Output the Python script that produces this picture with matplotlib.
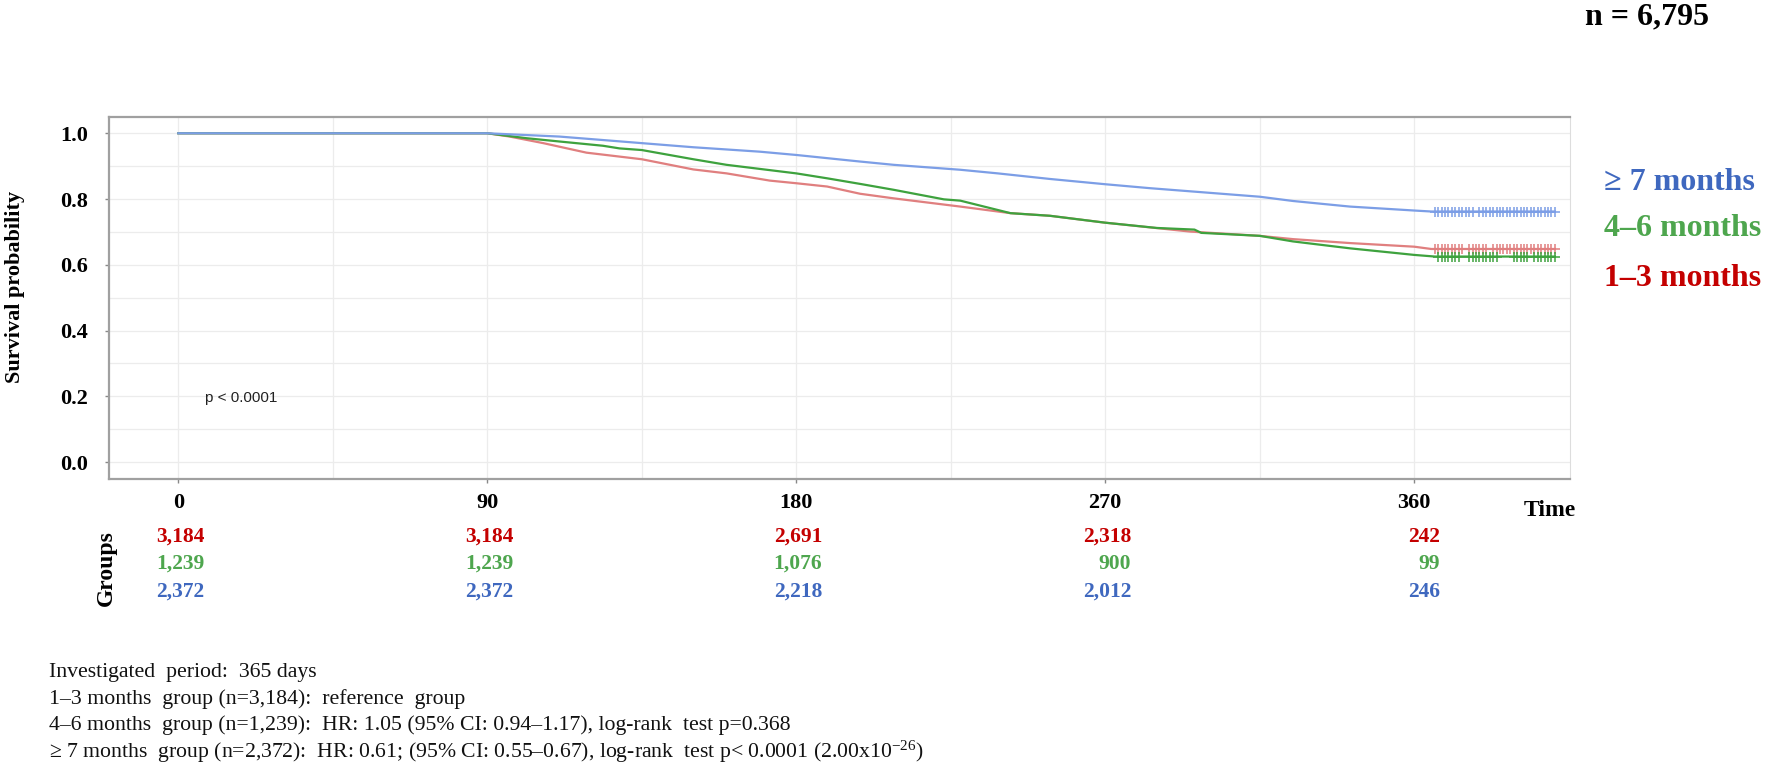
import matplotlib
matplotlib.use('Agg')
import matplotlib.pyplot as plt
import numpy as np
from matplotlib.transforms import blended_transform_factory

plt.rcParams['mathtext.fontset'] = 'custom'
plt.rcParams['mathtext.rm'] = 'Liberation Serif'
plt.rcParams['mathtext.it'] = 'Liberation Serif:italic'
plt.rcParams['mathtext.bf'] = 'Liberation Serif:bold'

SERIF = 'Liberation Serif'

# ---------------- data ----------------
groups = ['1\u20133 months', '4\u20136 months', '\u2265 7 months']

time_13 = [0, 90, 96.5, 106.3, 118.9, 135, 150, 159.7, 172.3, 180, 189, 198.6, 208.4,
           227.8, 242.4, 253.9, 270, 294.7, 315, 324.7, 341.3, 360, 365]
surv_13 = [1.0, 1.0, 0.990, 0.970, 0.941, 0.921, 0.890, 0.878, 0.856, 0.848, 0.838, 0.816,
           0.802, 0.777, 0.757, 0.749, 0.728, 0.701, 0.688, 0.678, 0.666, 0.655, 0.648]

time_46 = [0, 90, 101.4, 111, 123.7, 128.5, 135, 150, 159.7, 180, 189, 198.6, 208.4, 223,
           227.8, 242.4, 253.9, 270, 285, 296, 298, 315, 324.7, 341.3, 360, 366]
surv_46 = [1.0, 1.0, 0.985, 0.975, 0.962, 0.954, 0.949, 0.921, 0.904, 0.878, 0.863, 0.846,
           0.828, 0.799, 0.795, 0.757, 0.749, 0.728, 0.712, 0.707, 0.697, 0.688, 0.671,
           0.650, 0.630, 0.625]

time_7 = [0, 90, 111, 135, 150, 169.4, 180, 198.6, 208.4, 227.8, 238.7, 253.9, 270, 283,
          315, 324.7, 341.3, 360, 365]
surv_7 = [1.0, 1.0, 0.990, 0.970, 0.9575, 0.944, 0.934, 0.914, 0.904, 0.889, 0.878, 0.861,
          0.845, 0.833, 0.807, 0.794, 0.777, 0.765, 0.762]

cens_13 = [366, 367, 368, 369, 370, 371, 372, 373, 374, 376, 377, 378, 379, 380, 381,
           383, 384, 385, 386, 387, 388, 389, 390, 391, 392, 393, 394, 395, 396, 397,
           398, 399, 400, 401]
cens_46 = [367, 368, 369, 370, 371, 372, 373, 376, 377, 378, 379, 380, 381, 382, 383, 384,
           389, 390, 391, 392, 393, 395, 396, 397, 398, 399, 400, 401]
cens_7 = [366, 367, 368, 369, 370, 371, 372, 373, 374, 375, 376, 377, 379, 380, 381, 382,
          383, 384, 385, 386, 387, 388, 389, 390, 391, 392, 393, 394, 395, 396, 397, 398,
          399, 400, 401]

risk_times = [0, 90, 180, 270, 360]
risk_13 = ['3,184', '3,184', '2,691', '2,318', '242']
risk_46 = ['1,239', '1,239', '1,076', '900', '99']
risk_7 = ['2,372', '2,372', '2,218', '2,012', '246']

x_ticks = [0, 90, 180, 270, 360]
y_ticks = [0.0, 0.2, 0.4, 0.6, 0.8, 1.0]

line_colors = {'13': '#e07f7f', '46': '#3ea23e', '7': '#7c9ee6'}
text_colors = {'13': '#c40000', '46': '#4ea64e', '7': '#3f68bf'}

footnote = [
    'Investigated  period:  365 days',
    '1\u20133 months  group (n=3,184):  reference  group',
    '4\u20136 months  group (n=1,239):  HR: 1.05 (95% CI: 0.94\u20131.17), log-rank  test p=0.368',
    '\u2265 7 months  group (n=2,372):  HR: 0.61; (95% CI: 0.55\u20130.67), log-rank  test p< 0.0001 (2.00x10$^{-26}$)',
]

# ---------------- figure ----------------
W, H = 1772, 766
fig = plt.figure(figsize=(W / 100, H / 100), dpi=100)
fig.patch.set_facecolor('white')
ax = fig.add_axes([109 / W, 1 - 479 / H, (1570 - 109) / W, (479 - 117) / H])

ax.set_xlim(-20.2, 405.4)
ax.set_ylim(-0.0517, 1.0495)

ax.set_xticks(x_ticks)
ax.set_xticks([45, 135, 225, 315], minor=True)
ax.set_yticks(y_ticks)
ax.set_yticks([0.1, 0.3, 0.5, 0.7, 0.9], minor=True)
ax.set_xticklabels([str(t) for t in x_ticks])
ax.set_yticklabels(['%.1f' % v for v in y_ticks])
ax.grid(which='both', color='#ececec', lw=0.9)
ax.set_axisbelow(True)
ax.tick_params(which='minor', length=0)
ax.tick_params(which='major', length=3, color='#888888', width=1)
ax.tick_params(axis='y', pad=12)
ax.tick_params(axis='x', pad=7)
for lab in ax.get_xticklabels() + ax.get_yticklabels():
    lab.set_fontfamily(SERIF)
    lab.set_fontweight('bold')
    lab.set_fontsize(16)

for side in ['top', 'left', 'bottom']:
    ax.spines[side].set_color('#a0a0a0')
    ax.spines[side].set_linewidth(1.6)
ax.spines['right'].set_color('#dddddd')
ax.spines['right'].set_linewidth(0.8)

series = [('13', time_13, surv_13, cens_13),
          ('46', time_46, surv_46, cens_46),
          ('7', time_7, surv_7, cens_7)]
for key, t, s, c in series:
    t_ext = list(t) + [max(c)]
    s_ext = list(s) + [s[-1]]
    ax.plot(t_ext, s_ext, color=line_colors[key], lw=1.6, solid_joinstyle='round', zorder=3)
    ax.plot(c, [s[-1]] * len(c), linestyle='none', marker='+', markersize=7,
            mew=1.1, color=line_colors[key], zorder=3)

ax.text(7.8, 0.195, 'p < 0.0001', fontfamily='Liberation Sans', fontsize=11,
        color='#222222', ha='left', va='center')

# axis labels
fig.text(15 / W, 1 - 287 / H, 'Survival probability', rotation=90, fontfamily=SERIF,
         fontweight='bold', fontsize=16, ha='center', va='center')
fig.text(1524 / W, 1 - 510 / H, 'Time', fontfamily=SERIF, fontweight='bold', fontsize=17,
         ha='left', va='center')
fig.text(106 / W, 1 - 568 / H, 'Groups', rotation=90, fontfamily=SERIF, fontweight='bold',
         fontsize=17, ha='center', va='center')

# risk table
tr = blended_transform_factory(ax.transData, fig.transFigure)
rows = [('13', risk_13, 536.5), ('46', risk_46, 564), ('7', risk_7, 591.7)]
for key, vals, ypix in rows:
    for t, v in zip(risk_times, vals):
        ax.text(t + 7.6, 1 - ypix / H, v, transform=tr, fontfamily=SERIF, fontweight='bold',
                fontsize=15.5, color=text_colors[key], ha='right', va='center',
                clip_on=False)

# legend labels
legend_y = [('7', groups[2], 182), ('46', groups[1], 229), ('13', groups[0], 279)]
for key, lab, ypix in legend_y:
    fig.text(1604 / W, 1 - ypix / H, lab, fontfamily=SERIF, fontweight='bold', fontsize=23,
             color=text_colors[key], ha='left', va='center')

fig.text(1647 / W, 1 - 17 / H, 'n = 6,795', fontfamily=SERIF, fontweight='bold', fontsize=23,
         ha='center', va='center')

# footnote
for line, ypix in zip(footnote, [672, 699, 725, 752]):
    fig.text(49 / W, 1 - ypix / H, line, fontfamily=SERIF, fontsize=15.7, ha='left',
             va='center', color='#111111')

fig.savefig('out.png', dpi=100, facecolor='white')
